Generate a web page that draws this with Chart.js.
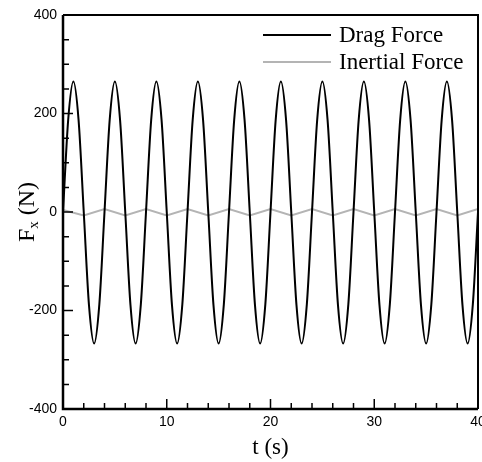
<!DOCTYPE html>
<html lang="en">
<head>
  <meta charset="UTF-8">
  <title>Fx vs t</title>
  <script src="https://cdn.jsdelivr.net/npm/chart.js"></script>
  <style>
    html, body { margin: 0; padding: 0; background: #fff; }
    #wrap { width: 482px; height: 462px; position: relative; }
  </style>
</head>
<body>
  <div id="wrap"><canvas id="myChart"></canvas></div>
  <script>
    // values
    const dragTimes = [0, 0.5, 1, 1.5, 2, 2.5, 3, 3.5, 4, 4.5, 5, 5.5, 6, 6.5, 7, 7.5, 8, 8.5, 9, 9.5,
      10, 10.5, 11, 11.5, 12, 12.5, 13, 13.5, 14, 14.5, 15, 15.5, 16, 16.5, 17, 17.5, 18, 18.5, 19, 19.5,
      20, 20.5, 21, 21.5, 22, 22.5, 23, 23.5, 24, 24.5, 25, 25.5, 26, 26.5, 27, 27.5, 28, 28.5, 29, 29.5,
      30, 30.5, 31, 31.5, 32, 32.5, 33, 33.5, 34, 34.5, 35, 35.5, 36, 36.5, 37, 37.5, 38, 38.5, 39, 39.5, 40];
    const dragForce = [0, 187, 265, 187, 0, -188, -267, -188, 0, 187, 265, 187, 0, -188, -267, -188, 0, 187, 265, 187,
      0, -188, -267, -188, 0, 187, 265, 187, 0, -188, -267, -188, 0, 187, 265, 187, 0, -188, -267, -188,
      0, 187, 265, 187, 0, -188, -267, -188, 0, 187, 265, 187, 0, -188, -267, -188, 0, 187, 265, 187,
      0, -188, -267, -188, 0, 187, 265, 187, 0, -188, -267, -188, 0, 187, 265, 187, 0, -188, -267, -188, 0];

    const inertialTimes = [0, 2, 4, 6, 8, 10, 12, 14, 16, 18, 20, 22, 24, 26, 28, 30, 32, 34, 36, 38, 40];
    const inertialForce = [4, -7, 6, -7, 6, -7, 6, -7, 6, -7, 6, -7, 6, -7, 6, -7, 6, -7, 6, -7, 6];

    const xMajor = [0, 10, 20, 30, 40];
    const xMinor = [2, 4, 6, 8, 12, 14, 16, 18, 22, 24, 26, 28, 32, 34, 36, 38];
    const yMajor = [-400, -200, 0, 200, 400];
    const yMinor = [-350, -300, -250, -150, -100, -50, 50, 100, 150, 250, 300, 350];

    const seriesNames = ['Drag Force', 'Inertial Force'];
    const xTitle = 't (s)';
    const yTitle = ['F', 'x', ' (N)'];

    const serif = '"Liberation Serif", "Times New Roman", serif';
    const sans = '"Liberation Sans", Arial, sans-serif';

    // frame, inward ticks, y title with subscript, legend
    const decor = {
      id: 'decor',
      afterDraw(chart) {
        const ctx = chart.ctx;
        const a = chart.chartArea;
        const xs = chart.scales.x, ys = chart.scales.y;
        ctx.save();
        ctx.strokeStyle = '#000';

        ctx.lineWidth = 2;
        ctx.beginPath();
        ctx.moveTo(a.left, a.top); ctx.lineTo(a.right, a.top); ctx.lineTo(a.right, a.bottom);
        ctx.stroke();
        ctx.lineWidth = 2.5;
        ctx.beginPath();
        ctx.moveTo(a.left, a.top); ctx.lineTo(a.left, a.bottom); ctx.lineTo(a.right, a.bottom);
        ctx.stroke();

        ctx.lineWidth = 1.5;
        ctx.beginPath();
        xMajor.forEach(v => { const p = xs.getPixelForValue(v); ctx.moveTo(p, a.bottom); ctx.lineTo(p, a.bottom - 10); });
        xMinor.forEach(v => { const p = xs.getPixelForValue(v); ctx.moveTo(p, a.bottom); ctx.lineTo(p, a.bottom - 6); });
        yMajor.forEach(v => { const p = ys.getPixelForValue(v); ctx.moveTo(a.left, p); ctx.lineTo(a.left + 10, p); });
        yMinor.forEach(v => { const p = ys.getPixelForValue(v); ctx.moveTo(a.left, p); ctx.lineTo(a.left + 6, p); });
        ctx.stroke();

        // y axis title with subscript
        ctx.fillStyle = '#000';
        ctx.translate(26, (a.top + a.bottom) / 2);
        ctx.rotate(-Math.PI / 2);
        ctx.textBaseline = 'alphabetic';
        const big = '24px ' + serif, small = '15px ' + serif;
        ctx.font = big; const w0 = ctx.measureText(yTitle[0]).width; const w2 = ctx.measureText(yTitle[2]).width;
        ctx.font = small; const w1 = ctx.measureText(yTitle[1]).width;
        let x0 = -(w0 + w1 + w2) / 2;
        ctx.font = big; ctx.fillText(yTitle[0], x0, 8);
        ctx.font = small; ctx.fillText(yTitle[1], x0 + w0, 12);
        ctx.font = big; ctx.fillText(yTitle[2], x0 + w0 + w1, 8);
        ctx.restore();

        // legend
        ctx.save();
        ctx.font = '23px ' + serif;
        ctx.textBaseline = 'middle';
        ctx.fillStyle = '#000';
        const rows = [35, 62];
        chart.data.datasets.forEach((ds, i) => {
          ctx.strokeStyle = ds.borderColor;
          ctx.lineWidth = ds.borderWidth;
          ctx.beginPath(); ctx.moveTo(263, rows[i]); ctx.lineTo(331, rows[i]); ctx.stroke();
          ctx.fillText(ds.label, 339, rows[i] + 1);
        });
        ctx.restore();
      }
    };

    new Chart(document.getElementById('myChart'), {
      type: 'line',
      data: {
        datasets: [{
          label: seriesNames[0],
          data: dragTimes.map((t, i) => ({ x: t, y: dragForce[i] })),
          borderColor: '#000',
          borderWidth: 2,
          pointRadius: 0,
          cubicInterpolationMode: 'monotone'
        }, {
          label: seriesNames[1],
          data: inertialTimes.map((t, i) => ({ x: t, y: inertialForce[i] })),
          borderColor: '#b4b4b4',
          borderWidth: 2,
          pointRadius: 0,
          tension: 0
        }]
      },
      options: {
        responsive: true,
        maintainAspectRatio: false,
        animation: false,
        layout: { padding: { top: 15, right: 4, left: 0, bottom: 0 } },
        plugins: { legend: { display: false }, tooltip: { enabled: false } },
        scales: {
          x: {
            type: 'linear', min: 0, max: 40,
            afterBuildTicks: s => { s.ticks = xMajor.map(v => ({ value: v })); },
            afterFit: s => { s.height = 53; s.paddingLeft = 0; s.paddingRight = 0; },
            grid: { display: false, drawTicks: false },
            border: { display: false },
            ticks: { color: '#000', font: { family: sans, size: 14 }, padding: 5, maxRotation: 0, autoSkip: false },
            title: { display: true, text: xTitle, color: '#000', font: { family: serif, size: 23 }, padding: { top: 0, bottom: 0 } }
          },
          y: {
            min: -400, max: 400,
            afterBuildTicks: s => { s.ticks = yMajor.map(v => ({ value: v })); },
            afterFit: s => { s.width = 63; s.paddingTop = 0; s.paddingBottom = 0; },
            grid: { display: false, drawTicks: false },
            border: { display: false },
            ticks: { color: '#000', font: { family: sans, size: 14 }, padding: 6, autoSkip: false }
          }
        }
      },
      plugins: [decor]
    });
  </script>
</body>
</html>
